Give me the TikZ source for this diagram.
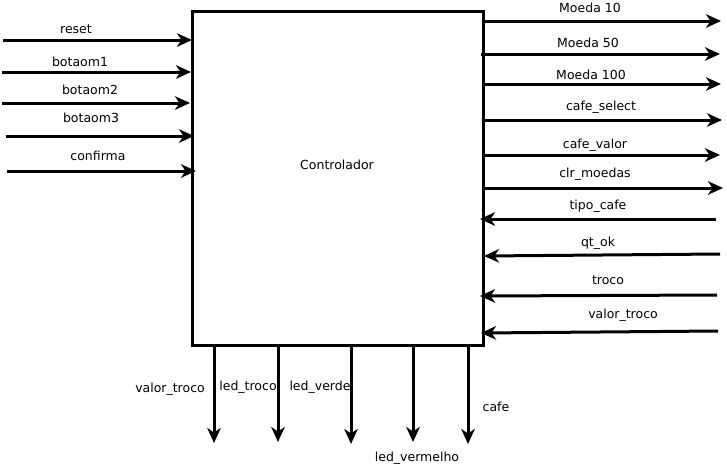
\documentclass[tikz,border=0pt]{standalone}
\usepackage{fontspec}
\setmainfont{DejaVu Sans}
\usetikzlibrary{arrows.meta}
\begin{document}
\begin{tikzpicture}[x=1pt,y=-1pt,>={Stealth[length=15pt,width=13.5pt,inset=4.5pt]}]
\tikzset{sigline/.style={draw=black,line width=3pt,->},
  lbl/.style={font=\fontsize{12.5}{14}\selectfont,inner sep=0pt,anchor=center},
  ctrl/.style={draw,line width=2.6pt,minimum width=291pt,minimum height=334pt,inner sep=0pt,anchor=north west}}
\useasboundingbox (0,0) rectangle (727,466);
\fill[white] (0,0) rectangle (727,466);
\node[ctrl] (box) at (191,10) {};
\node[lbl] (title) at (337,165) {Controlador};
% left inputs
\coordinate (r0) at (3,40);   \coordinate (r1) at (192,40);
\coordinate (b10) at (2,72);  \coordinate (b11) at (191,72);
\coordinate (b20) at (2,103); \coordinate (b21) at (190,103);
\coordinate (b30) at (6,136); \coordinate (b31) at (194,136);
\coordinate (c0) at (7,171);  \coordinate (c1) at (196,171);
\draw[sigline] (r0) -- (r1);
\draw[sigline] (b10) -- (b11);
\draw[sigline] (b20) -- (b21);
\draw[sigline] (b30) -- (b31);
\draw[sigline] (c0) -- (c1);
\node[lbl] (lreset) at (76,29) {reset};
\node[lbl] (lb1) at (80,62) {botaom1};
\node[lbl] (lb2) at (90,90) {botaom2};
\node[lbl] (lb3) at (91,118) {botaom3};
\node[lbl] (lconf) at (98,156) {confirma};
% right outputs
\coordinate (m10a) at (482,21);  \coordinate (m10b) at (721,21);
\coordinate (m50a) at (481,54);  \coordinate (m50b) at (720,54);
\coordinate (m100a) at (482,84); \coordinate (m100b) at (721,84);
\coordinate (csa) at (482,120);  \coordinate (csb) at (722,120);
\coordinate (cva) at (482,155);  \coordinate (cvb) at (720,155);
\coordinate (clra) at (485,188); \coordinate (clrb) at (723,188);
\draw[sigline] (m10a) -- (m10b);
\draw[sigline] (m50a) -- (m50b);
\draw[sigline] (m100a) -- (m100b);
\draw[sigline] (csa) -- (csb);
\draw[sigline] (cva) -- (cvb);
\draw[sigline] (clra) -- (clrb);
\node[lbl] (lm10) at (590,8) {Moeda 10};
\node[lbl] (lm50) at (588,43) {Moeda 50};
\node[lbl] (lm100) at (591,75) {Moeda 100};
\node[lbl] (lcs) at (601,107) {cafe\_select};
\node[lbl] (lcv) at (595,145) {cafe\_valor};
\node[lbl] (lclr) at (595,174) {clr\_moedas};
% right inputs
\coordinate (tca) at (716,219); \coordinate (tcb) at (480,219);
\coordinate (qta) at (720,254); \coordinate (qtb) at (484,256);
\coordinate (tra) at (717,295); \coordinate (trb) at (480,296);
\coordinate (vta) at (718,331); \coordinate (vtb) at (481,333);
\draw[sigline] (tca) -- (tcb);
\draw[sigline] (qta) -- (qtb);
\draw[sigline] (tra) -- (trb);
\draw[sigline] (vta) -- (vtb);
\node[lbl] (ltc) at (598,206) {tipo\_cafe};
\node[lbl] (lqt) at (598,243) {qt\_ok};
\node[lbl] (ltr) at (608,280) {troco};
\node[lbl] (lvt) at (623,315) {valor\_troco};
% bottom outputs
\coordinate (d1a) at (214,344); \coordinate (d1b) at (214,443);
\coordinate (d2a) at (278,344); \coordinate (d2b) at (278,442);
\coordinate (d3a) at (351,344); \coordinate (d3b) at (351,444);
\coordinate (d4a) at (413,344); \coordinate (d4b) at (413,442);
\coordinate (d5a) at (468,344); \coordinate (d5b) at (468,444);
\draw[sigline] (d1a) -- (d1b);
\draw[sigline] (d2a) -- (d2b);
\draw[sigline] (d3a) -- (d3b);
\draw[sigline] (d4a) -- (d4b);
\draw[sigline] (d5a) -- (d5b);
\node[lbl] (lvt2) at (170,389) {valor\_troco};
\node[lbl] (lledt) at (248,387) {led\_troco};
\node[lbl] (lledv) at (320,387) {led\_verde};
\node[lbl] (lledvm) at (417,458) {led\_vermelho};
\node[lbl] (lcafe) at (496,407) {cafe};
\end{tikzpicture}
\end{document}
